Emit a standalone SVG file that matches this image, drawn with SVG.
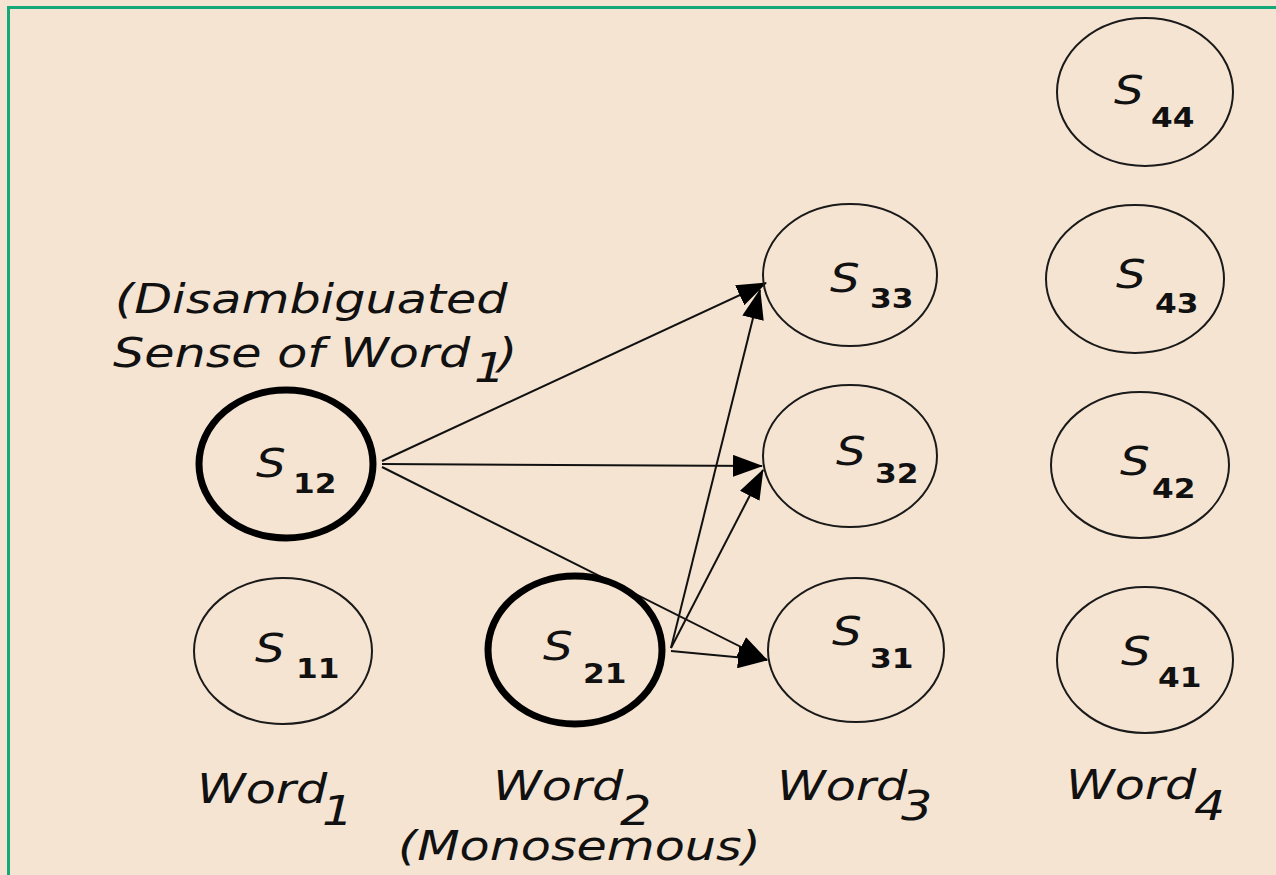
<svg xmlns="http://www.w3.org/2000/svg" width="1276" height="875" viewBox="0 0 1276 875">
  <style>
    .sense { fill: none; stroke: #1a1a1a; stroke-width: 2; }
    .chosen { fill: none; stroke: #000; stroke-width: 7; }
    .s { font-family: "DejaVu Sans", "Liberation Sans", sans-serif; font-style: italic; font-size: 39px; fill: #111; }
    .sub { font-family: "DejaVu Sans", "Liberation Sans", sans-serif; font-weight: bold; font-size: 26px; fill: #111; }
    .lbl { font-family: "DejaVu Sans", "Liberation Sans", sans-serif; font-style: italic; font-size: 41px; fill: #111; }
    .edge { stroke: #111; stroke-width: 2; fill: none; marker-end: url(#arrow); }
  </style>
  <defs>
    <marker id="arrow" markerUnits="userSpaceOnUse" markerWidth="30" markerHeight="22" refX="29" refY="11" orient="auto">
      <path d="M0,0 L30,11 L0,22 z" fill="#000"/>
    </marker>
  </defs>

  <!-- background and frame -->
  <rect x="0" y="0" width="1276" height="875" fill="#f5e4d1"/>
  <path d="M8.5,875 V7.5 H1276" fill="none" stroke="#14a87b" stroke-width="3"/>

  <!-- connectors -->
  <g id="connectors">
    <line class="edge" x1="382" y1="461" x2="766" y2="283"/>
    <line class="edge" x1="382" y1="464" x2="762" y2="466"/>
    <line class="edge" x1="382" y1="467" x2="767" y2="660"/>
    <line class="edge" x1="671" y1="648" x2="760" y2="290"/>
    <line class="edge" x1="671" y1="648" x2="763" y2="470"/>
    <line class="edge" x1="671" y1="651" x2="767" y2="660"/>
  </g>

  <!-- Word1 senses -->
  <g id="S12">
    <ellipse class="chosen" cx="286" cy="464" rx="87" ry="74"/>
    <text class="s" transform="matrix(1.2 0 0 1 256 477)">S</text>
    <text class="sub" transform="matrix(1.2 0 0 1 293 493)">12</text>
  </g>
  <g id="S11">
    <ellipse class="sense" cx="283" cy="651" rx="89" ry="73"/>
    <text class="s" transform="matrix(1.2 0 0 1 255 662)">S</text>
    <text class="sub" transform="matrix(1.2 0 0 1 296 678)">11</text>
  </g>

  <!-- Word2 sense -->
  <g id="S21">
    <ellipse class="chosen" cx="575" cy="650" rx="87" ry="74"/>
    <text class="s" transform="matrix(1.2 0 0 1 543 660)">S</text>
    <text class="sub" transform="matrix(1.2 0 0 1 583 683)">21</text>
  </g>

  <!-- Word3 senses -->
  <g id="S33">
    <ellipse class="sense" cx="850" cy="275" rx="87" ry="71"/>
    <text class="s" transform="matrix(1.2 0 0 1 830 292)">S</text>
    <text class="sub" transform="matrix(1.2 0 0 1 870 308)">33</text>
  </g>
  <g id="S32">
    <ellipse class="sense" cx="850" cy="456" rx="87" ry="71"/>
    <text class="s" transform="matrix(1.2 0 0 1 836 465)">S</text>
    <text class="sub" transform="matrix(1.2 0 0 1 875 483)">32</text>
  </g>
  <g id="S31">
    <ellipse class="sense" cx="856" cy="650" rx="88" ry="72"/>
    <text class="s" transform="matrix(1.2 0 0 1 832 645)">S</text>
    <text class="sub" transform="matrix(1.2 0 0 1 870 668)">31</text>
  </g>

  <!-- Word4 senses -->
  <g id="S44">
    <ellipse class="sense" cx="1145" cy="92" rx="88" ry="74"/>
    <text class="s" transform="matrix(1.2 0 0 1 1114 104)">S</text>
    <text class="sub" transform="matrix(1.2 0 0 1 1151 127)">44</text>
  </g>
  <g id="S43">
    <ellipse class="sense" cx="1135" cy="279" rx="89" ry="74"/>
    <text class="s" transform="matrix(1.2 0 0 1 1116 288)">S</text>
    <text class="sub" transform="matrix(1.2 0 0 1 1155 313)">43</text>
  </g>
  <g id="S42">
    <ellipse class="sense" cx="1140" cy="465" rx="89" ry="73"/>
    <text class="s" transform="matrix(1.2 0 0 1 1120 475)">S</text>
    <text class="sub" transform="matrix(1.2 0 0 1 1152 498)">42</text>
  </g>
  <g id="S41">
    <ellipse class="sense" cx="1145" cy="660" rx="88" ry="73"/>
    <text class="s" transform="matrix(1.2 0 0 1 1121 665)">S</text>
    <text class="sub" transform="matrix(1.2 0 0 1 1158 687)">41</text>
  </g>

  <!-- annotations -->
  <g id="note-disambiguated">
    <text class="lbl" transform="matrix(1.2 0 0 1 115 313)">(Disambiguated</text>
    <text class="lbl" transform="matrix(1.2 0 0 1 113 367)">Sense of Word</text>
    <text class="lbl" transform="matrix(1.2 0 0 1 474 382)">1</text>
    <text class="lbl" transform="matrix(1.2 0 0 1 498 367)">)</text>
  </g>

  <!-- word labels -->
  <g id="word1">
    <text class="lbl" transform="matrix(1.2 0 0 1 197 803)">Word</text>
    <text class="lbl" transform="matrix(1.2 0 0 1 322 825)">1</text>
  </g>
  <g id="word2">
    <text class="lbl" transform="matrix(1.2 0 0 1 493 800)">Word</text>
    <text class="lbl" transform="matrix(1.2 0 0 1 620 825)">2</text>
    <text class="lbl" transform="matrix(1.2 0 0 1 398 860)">(Monosemous)</text>
  </g>
  <g id="word3">
    <text class="lbl" transform="matrix(1.2 0 0 1 777 800)">Word</text>
    <text class="lbl" transform="matrix(1.2 0 0 1 901 820)">3</text>
  </g>
  <g id="word4">
    <text class="lbl" transform="matrix(1.2 0 0 1 1066 799)">Word</text>
    <text class="lbl" transform="matrix(1.2 0 0 1 1194 820)">4</text>
  </g>
</svg>
